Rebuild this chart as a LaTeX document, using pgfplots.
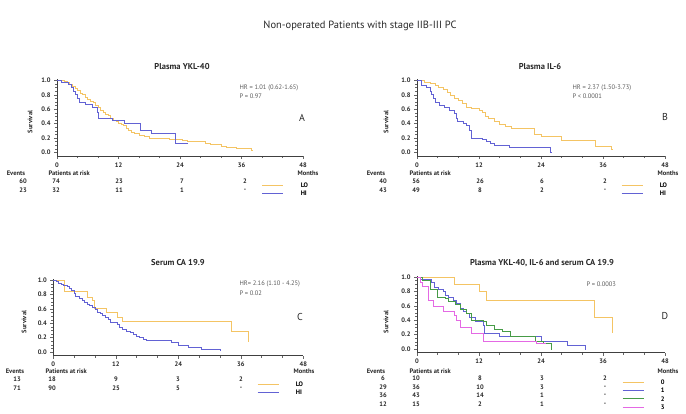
\documentclass[border=0pt]{standalone}
\usepackage{pgfplots}
\pgfplotsset{compat=1.18}
\usepackage{fontspec}
\setmainfont{PT Sans}
\definecolor{lo}{RGB}{244,196,100}
\definecolor{hi}{RGB}{98,98,212}
\definecolor{gr}{RGB}{70,155,70}
\definecolor{mg}{RGB}{228,105,228}
\definecolor{txt}{RGB}{40,40,40}
\newcommand\sm{\fontsize{6.5}{7}\selectfont}
\newcommand\tl{\bfseries\fontsize{8.5}{10}\selectfont}
\pgfplotsset{
  km/.style={
    scale only axis, anchor=south west,
    axis lines=left, axis line style={-, black!75, line width=0.5pt},
    xmin=0, xmax=48, ymin=-0.05, ymax=1.02,
    xtick={0,12,24,36,48}, minor xtick={4,8,16,20,28,32,40,44},
    ytick={0,0.2,0.4,0.6,0.8,1.0},
    minor ytick={0.05,0.1,0.15,0.25,0.3,0.35,0.45,0.5,0.55,0.65,0.7,0.75,0.85,0.9,0.95},
    /pgf/number format/assume math mode=true,
    yticklabel style={/pgf/number format/.cd,fixed,fixed zerofill,precision=1},
    xticklabel style={/pgf/number format/.cd,fixed},
    tick style={black!60, line width=0.4pt}, tick align=outside,
    major tick length=3pt, minor tick length=2pt,
    tick label style={font=\sm\bfseries, text=txt},
    clip=false, const plot,
    every axis plot/.append style={line width=0.65pt},
    legend image code/.code={\draw[##1] (0pt,0pt) -- (21pt,0pt); \path (38pt,0pt);},
    legend cell align=left,
    legend style={anchor=north west, draw=none, fill=none, inner sep=0pt,
      row sep=3pt, font=\sm\bfseries,
      nodes={inner sep=0pt, text height=5pt, text depth=0pt}},
  }
}
\begin{document}
\begin{tikzpicture}
\path[use as bounding box] (0pt,0pt) rectangle (686pt,-413pt);
\node[font=\fontsize{10.5}{12}\selectfont, text=txt] at (360pt,-26pt) {Non-operated Patients with stage IIB-III PC};

% ---------------- Panel A
\begin{axis}[km, at={(57pt,-156pt)}, width=246pt, height=77.04pt,
  legend style={at={(0.833,-0.344)}}]
\addplot[lo] coordinates {(0,1.0)(1.5,0.99)(2.0,0.97)(2.5,0.95)(3.0,0.92)(3.5,0.89)(4.0,0.86)(4.5,0.82)(5.0,0.80)(5.5,0.77)(6.0,0.74)(6.5,0.71)(7.0,0.69)(7.5,0.66)(8.0,0.62)(8.5,0.59)(9.0,0.56)(9.5,0.53)(10.0,0.51)(10.5,0.48)(11.0,0.45)(11.5,0.43)(12.0,0.41)(12.5,0.39)(13.0,0.37)(13.5,0.33)(14.0,0.30)(14.5,0.28)(15.0,0.26)(16.0,0.24)(17.0,0.22)(18.0,0.20)(19.0,0.19)(22.0,0.185)(23.5,0.18)(24.5,0.17)(25.5,0.16)(27.0,0.15)(29.0,0.12)(30.0,0.11)(32.0,0.09)(33.0,0.07)(35.0,0.06)(36.5,0.05)(38.0,0.03)(38.3,0.03)};
\addplot[hi] coordinates {(0,1.0)(0.8,0.97)(2.3,0.94)(2.8,0.90)(3.2,0.85)(3.6,0.80)(4.0,0.75)(4.4,0.69)(5.5,0.67)(6.8,0.63)(7.8,0.56)(8.0,0.48)(10.8,0.44)(13.2,0.41)(16.2,0.31)(18.4,0.26)(23.0,0.125)(25.5,0.125)};
\legend{LO,HI}
\end{axis}
\node[font=\tl, text=txt] at (182pt,-67pt) {Plasma YKL-40};
\node[font=\sm\bfseries, rotate=90, text=txt] at (30pt,-122pt) {Survival};
\node[font=\sm, text=black!65, anchor=west] at (236pt,-88pt) {HR = 1.01 (0.62-1.65)};
\node[font=\sm, text=black!65, anchor=west] at (236pt,-96pt) {P = 0.97};
\node[font=\fontsize{10}{12}\selectfont, text=txt] at (302pt,-118pt) {A};
\begin{scope}[font=\sm\bfseries, text=txt]
\node at (16pt,-173pt) {Events};
\node[anchor=west] at (45pt,-173pt) {Patients at risk};
\node[anchor=east] at (322pt,-173pt) {Months};
\node at (23pt,-181pt) {60}; \node at (23pt,-190pt) {23};
\node at (56pt,-181pt) {74}; \node at (119pt,-181pt) {23}; \node at (182pt,-181pt) {7}; \node at (245pt,-181pt) {2};
\node at (56pt,-190pt) {32}; \node at (119pt,-190pt) {11}; \node at (182pt,-190pt) {1}; \node at (245pt,-190pt) {-};
\end{scope}

% ---------------- Panel B
\begin{axis}[km, at={(417pt,-156pt)}, width=248pt, height=77.04pt,
  legend style={at={(0.8226,-0.344)}}]
\addplot[lo] coordinates {(0,1.0)(1.5,0.98)(2.5,0.96)(3.5,0.93)(4.2,0.90)(5.0,0.87)(5.8,0.83)(6.5,0.79)(7.2,0.75)(8.0,0.72)(8.8,0.68)(9.5,0.63)(10.5,0.61)(12.0,0.59)(12.6,0.55)(13.2,0.50)(13.8,0.47)(15.0,0.43)(16.0,0.39)(17.0,0.36)(18.3,0.33)(22.8,0.25)(24.1,0.22)(28.0,0.17)(34.5,0.09)(37.7,0.04)(37.8,0.04)};
\addplot[hi] coordinates {(0,1.0)(0.8,0.93)(1.8,0.90)(2.5,0.85)(2.8,0.80)(3.1,0.75)(3.6,0.70)(4.3,0.65)(5.2,0.62)(6.2,0.58)(7.2,0.54)(7.6,0.48)(7.9,0.43)(9.0,0.40)(9.5,0.38)(10.1,0.30)(10.5,0.20)(12.6,0.18)(13.5,0.16)(14.2,0.13)(15.0,0.10)(17.9,0.07)(25.9,0.0)(26.0,0.0)};
\legend{LO,HI}
\end{axis}
\node[font=\tl, text=txt] at (540pt,-67pt) {Plasma IL-6};
\node[font=\sm\bfseries, rotate=90, text=txt] at (386pt,-122pt) {Survival};
\node[font=\sm, text=black!65, anchor=west] at (569pt,-88pt) {HR = 2.37 (1.50-3.73)};
\node[font=\sm, text=black!65, anchor=west] at (569pt,-96pt) {P < 0.0001};
\node[font=\fontsize{10}{12}\selectfont, text=txt] at (665pt,-117pt) {B};
\begin{scope}[font=\sm\bfseries, text=txt]
\node at (376pt,-173pt) {Events};
\node[anchor=west] at (406pt,-173pt) {Patients at risk};
\node[anchor=east] at (682pt,-173pt) {Months};
\node at (383pt,-181pt) {40}; \node at (383pt,-190pt) {43};
\node at (416pt,-181pt) {56}; \node at (480pt,-181pt) {26}; \node at (542pt,-181pt) {6}; \node at (605pt,-181pt) {2};
\node at (416pt,-190pt) {49}; \node at (480pt,-190pt) {8}; \node at (542pt,-190pt) {2}; \node at (605pt,-190pt) {-};
\end{scope}

% ---------------- Panel C
\begin{axis}[km, at={(53.3pt,-355.6pt)}, width=250pt, height=76.7pt,
  legend style={at={(0.815,-0.338)}}]
\addplot[lo] coordinates {(0,1.0)(2.2,0.84)(6.6,0.77)(7.4,0.72)(7.9,0.61)(10.2,0.55)(12.2,0.49)(13.2,0.43)(34.2,0.29)(37.5,0.14)};
\addplot[hi] coordinates {(0,1.0)(0.5,0.98)(1.0,0.96)(1.5,0.95)(2.0,0.93)(2.6,0.91)(3.0,0.89)(3.5,0.86)(4.0,0.82)(4.3,0.78)(5.0,0.75)(5.5,0.72)(6.0,0.70)(6.5,0.67)(7.0,0.65)(7.5,0.62)(8.0,0.59)(8.5,0.56)(9.0,0.54)(9.5,0.51)(10.0,0.48)(10.5,0.45)(11.0,0.41)(12.2,0.39)(12.7,0.35)(13.2,0.32)(14.1,0.29)(14.8,0.27)(15.4,0.24)(16.0,0.22)(16.6,0.20)(17.2,0.18)(17.9,0.16)(22.7,0.13)(24.0,0.10)(25.9,0.07)(28.5,0.04)(32.0,0.03)(32.2,0.03)};
\legend{LO,HI}
\end{axis}
\node[font=\tl, text=txt] at (178pt,-263pt) {Serum CA 19.9};
\node[font=\sm\bfseries, rotate=90, text=txt] at (24pt,-322pt) {Survival};
\node[font=\sm, text=black!65, anchor=west] at (236pt,-284pt) {HR= 2.16 (1.10 - 4.25)};
\node[font=\sm, text=black!65, anchor=west] at (236pt,-293pt) {P = 0.02};
\node[font=\fontsize{10}{12}\selectfont, text=txt] at (300pt,-317pt) {C};
\begin{scope}[font=\sm\bfseries, text=txt]
\node at (15pt,-371pt) {Events};
\node[anchor=west] at (42pt,-371pt) {Patients at risk};
\node[anchor=east] at (318pt,-371pt) {Months};
\node at (17pt,-379pt) {13}; \node at (17pt,-388pt) {71};
\node at (52pt,-379pt) {18}; \node at (116pt,-379pt) {9}; \node at (178pt,-379pt) {3}; \node at (241pt,-379pt) {2};
\node at (52pt,-388pt) {90}; \node at (116pt,-388pt) {25}; \node at (178pt,-388pt) {5}; \node at (241pt,-388pt) {-};
\end{scope}

% ---------------- Panel D
\begin{axis}[km, at={(417pt,-352.6pt)}, width=248pt, height=77pt,
  legend style={at={(0.827,-0.349)}, row sep=3.3pt}]
\addplot[lo] coordinates {(0,1.0)(7.3,0.90)(12.1,0.80)(13.4,0.67)(34.4,0.44)(37.9,0.22)};
\addplot[hi] coordinates {(0,1.0)(0.6,0.97)(2.8,0.92)(3.3,0.86)(4.1,0.83)(5.0,0.80)(5.5,0.75)(6.0,0.72)(7.0,0.67)(7.6,0.63)(8.3,0.56)(9.0,0.53)(9.6,0.50)(10.2,0.44)(11.2,0.38)(12.8,0.33)(13.1,0.22)(16.0,0.18)(17.5,0.17)(24.1,0.11)(29.0,0.05)(32.6,0.0)(32.7,0.0)};
\addplot[gr] coordinates {(0,1.0)(1.0,0.95)(2.5,0.83)(3.9,0.72)(5.5,0.70)(6.0,0.66)(7.5,0.62)(8.3,0.55)(9.5,0.50)(10.5,0.40)(12.8,0.38)(13.5,0.33)(15.0,0.28)(16.5,0.24)(18.0,0.18)(22.9,0.10)(24.5,0.08)(26.0,0.0)(26.1,0.0)};
\addplot[mg] coordinates {(0,1.0)(0.6,0.93)(1.0,0.87)(2.1,0.67)(3.1,0.60)(5.0,0.53)(7.3,0.47)(7.6,0.40)(8.3,0.30)(10.5,0.22)(12.8,0.10)(23.1,0.08)(25.0,0.08)};
\legend{0,1,2,3}
\end{axis}
\node[font=\tl, text=txt] at (542pt,-263pt) {Plasma YKL-40, IL-6 and serum CA 19.9};
\node[font=\sm\bfseries, rotate=90, text=txt] at (386pt,-322pt) {Survival};
\node[font=\sm, text=black!65, anchor=west] at (583pt,-284pt) {P = 0.0003};
\node[font=\fontsize{10}{12}\selectfont, text=txt] at (665pt,-316pt) {D};
\begin{scope}[font=\sm\bfseries, text=txt]
\node at (376pt,-371pt) {Events};
\node[anchor=west] at (406pt,-371pt) {Patients at risk};
\node[anchor=east] at (682pt,-371pt) {Months};
\node at (383pt,-378pt) {6}; \node at (383pt,-387pt) {29}; \node at (383pt,-395pt) {36}; \node at (383pt,-404pt) {12};
\node at (416pt,-378pt) {10}; \node at (480pt,-378pt) {8}; \node at (542pt,-378pt) {3}; \node at (605pt,-378pt) {2};
\node at (416pt,-387pt) {36}; \node at (480pt,-387pt) {10}; \node at (542pt,-387pt) {3}; \node at (605pt,-387pt) {-};
\node at (416pt,-395pt) {43}; \node at (480pt,-395pt) {14}; \node at (542pt,-395pt) {1}; \node at (605pt,-395pt) {-};
\node at (416pt,-404pt) {15}; \node at (480pt,-404pt) {2}; \node at (542pt,-404pt) {1}; \node at (605pt,-404pt) {-};
\end{scope}
\end{tikzpicture}
\end{document}
